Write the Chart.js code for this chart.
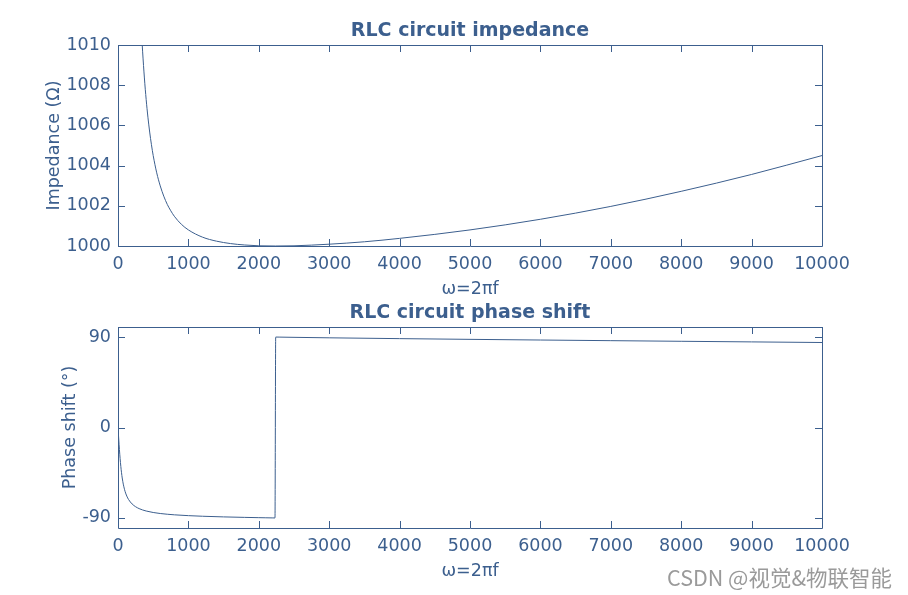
<!DOCTYPE html>
<html>
<head>
<meta charset="utf-8">
<script src="https://cdn.jsdelivr.net/npm/chart.js@4.4.0/dist/chart.umd.min.js"></script>
<style>
  html, body { margin: 0; padding: 0; background: #fff; }
  #wrap { position: relative; width: 908px; height: 595px; }
  #c1 { position: absolute; left: 0; top: 0; }
  #c2 { position: absolute; left: 0; top: 297px; }
  #wm { position: absolute; left: 667px; top: 562px; font-family: "Noto Sans CJK SC", "DejaVu Sans", sans-serif;
        font-size: 21.5px; line-height: 30px; color: #9a9a9a; white-space: nowrap; text-shadow: 0 0 1px #fff; }
</style>
</head>
<body>
<div id="wrap">
  <canvas id="c1" width="908" height="297"></canvas>
  <canvas id="c2" width="908" height="298"></canvas>
  <div id="wm">CSDN @视觉&amp;物联智能</div>
</div>
<script>
// ---- data ----
const omegaZ = [250, 300, 325, 350, 375, 400, 425, 450, 475, 500, 550, 600, 650, 700, 750, 800, 900, 1000, 1200, 1400, 1600, 1800, 2000, 2236, 2500, 3000, 3500, 4000, 5000, 6000, 7000, 8000, 9000, 10000];
const impedance = [1019.31, 1013.30, 1011.28, 1009.66, 1008.36, 1007.29, 1006.41, 1005.67, 1005.04, 1004.50, 1003.64, 1002.99, 1002.48, 1002.07, 1001.75, 1001.48, 1001.08, 1000.80, 1000.44, 1000.24, 1000.12, 1000.05, 1000.01, 1000.00, 1000.01, 1000.09, 1000.21, 1000.38, 1000.80, 1001.33, 1001.97, 1002.72, 1003.56, 1004.50];

const omegaP = [0, 5, 10, 15, 20, 25, 30, 40, 50, 60, 75, 100, 125, 150, 200, 250, 300, 350, 400, 500, 600, 700, 800, 1000, 1200, 1500, 1800, 2000, 2100, 2200, 2230, 2240, 2300, 2500, 3000, 4000, 5000, 6000, 7000, 8000, 9000, 10000];
const phase = [0, -5.71, -11.31, -16.70, -21.80, -26.57, -30.97, -38.67, -45.01, -50.22, -56.34, -63.48, -68.26, -71.64, -76.07, -78.83, -80.71, -82.07, -83.10, -84.57, -85.58, -86.31, -86.88, -87.71, -88.30, -88.95, -89.44, -89.71, -89.84, -89.96, -89.99, 89.99, 89.93, 89.71, 89.24, 88.42, 87.71, 87.04, 86.40, 85.78, 85.17, 84.57];

const xTicks = [0, 1000, 2000, 3000, 4000, 5000, 6000, 7000, 8000, 9000, 10000];
const zTicks = [1000, 1002, 1004, 1006, 1008, 1010];
const phaseTicks = [-90, 0, 90];

// ---- style ----
const BLUE = '#3c5f8e';
const FONT = 'DejaVu Sans';
const FS = 17.5;
Chart.defaults.font.family = FONT;
Chart.defaults.color = BLUE;

const boxTicks = {
  id: 'boxTicks',
  afterDraw(chart, args, opts) {
    const {ctx, chartArea: a, scales} = chart;
    ctx.save();
    ctx.strokeStyle = BLUE;
    ctx.lineWidth = 1;
    ctx.beginPath();
    ctx.rect(Math.round(a.left) + 0.5, Math.round(a.top) + 0.5, Math.round(a.right - a.left), Math.round(a.bottom - a.top));
    const L = 7;
    scales.x.ticks.forEach(t => {
      const px = Math.round(scales.x.getPixelForValue(t.value)) + 0.5;
      ctx.moveTo(px, a.bottom); ctx.lineTo(px, a.bottom - L);
      ctx.moveTo(px, a.top); ctx.lineTo(px, a.top + L);
    });
    scales.y.ticks.forEach(t => {
      const py = Math.round(scales.y.getPixelForValue(t.value)) + 0.5;
      ctx.moveTo(a.left, py); ctx.lineTo(a.left + L, py);
      ctx.moveTo(a.right, py); ctx.lineTo(a.right - L, py);
    });
    ctx.stroke();
    // title centred over the plot area
    ctx.fillStyle = BLUE;
    ctx.font = 'bold 19px "' + FONT + '"';
    ctx.textAlign = 'center';
    ctx.textBaseline = 'middle';
    ctx.fillText(opts.text, (a.left + a.right) / 2, a.top - opts.gap);
    ctx.restore();
  }
};

function makeChart(id, xs, ys, yMin, yMax, yTickVals, title, yTitle, yTitlePad, padTop, padBottom) {
  return new Chart(document.getElementById(id), {
    type: 'line',
    data: {
      datasets: [{
        data: xs.map((x, i) => ({x: x, y: ys[i]})),
        borderColor: BLUE,
        borderWidth: 1,
        pointRadius: 0,
        cubicInterpolationMode: 'monotone',
        fill: false
      }]
    },
    plugins: [boxTicks],
    options: {
      responsive: false,
      animation: false,
      events: [],
      layout: { padding: { left: 0, right: 86, top: padTop, bottom: padBottom } },
      plugins: {
        legend: { display: false },
        tooltip: { enabled: false },
        title: { display: false },
        boxTicks: { text: title, gap: 14 }
      },
      scales: {
        x: {
          type: 'linear', min: 0, max: 10000,
          afterBuildTicks: s => { s.ticks = xTicks.map(v => ({value: v})); },
          afterFit: s => { s.height = 51; },
          grid: { display: false, drawTicks: false },
          border: { display: false },
          ticks: { color: BLUE, font: { size: FS }, padding: 8, maxRotation: 0, autoSkip: false, callback: v => String(v) },
          title: { display: true, text: 'ω=2πf', color: BLUE, font: { size: FS }, padding: { top: 0, bottom: -3 } }
        },
        y: {
          type: 'linear', min: yMin, max: yMax,
          afterBuildTicks: s => { s.ticks = yTickVals.map(v => ({value: v})); },
          afterFit: s => { s.width = 118; },
          grid: { display: false, drawTicks: false },
          border: { display: false },
          ticks: { color: BLUE, font: { size: FS }, padding: 7, autoSkip: false, callback: v => String(v) },
          title: { display: true, text: yTitle, color: BLUE, font: { size: FS }, padding: { top: yTitlePad, bottom: 0 } }
        }
      }
    }
  });
}

makeChart('c1', omegaZ, impedance, 1000, 1010, zTicks, 'RLC circuit impedance', 'Impedance (Ω)', 44, 45, 0);
makeChart('c2', omegaP, phase, -100, 100, phaseTicks, 'RLC circuit phase shift', 'Phase shift (°)', 60, 30, 16);
</script>
</body>
</html>
